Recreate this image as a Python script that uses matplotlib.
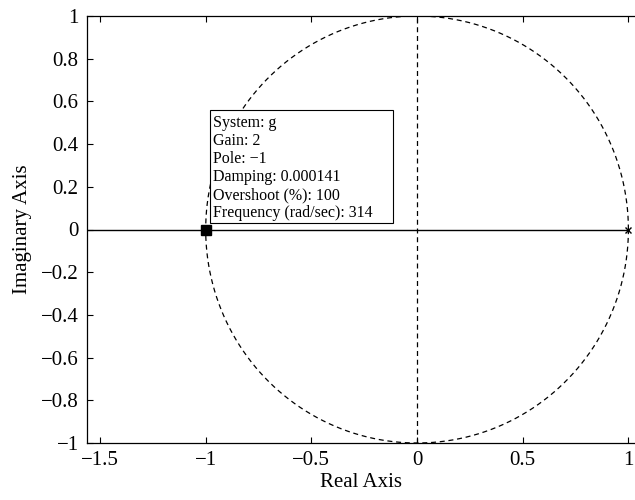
import numpy as np
import matplotlib
matplotlib.use('Agg')
import matplotlib.pyplot as plt
from matplotlib.patches import Rectangle

plt.rcParams['font.family'] = ['Liberation Serif', 'DejaVu Serif']
plt.rcParams['axes.unicode_minus'] = True

# root locus data
pole_re = [1.0]
pole_im = [0.0]
branch_re = [-10.0, 1.0]      # real-axis branch, pole at 1 going to -inf
branch_im = [0.0, 0.0]
circle_radius = 1.0           # dashed unit circle
imag_axis_re = [0.0, 0.0]
imag_axis_im = [-1.0, 1.0]

# selected point / data tip
sel_re, sel_im = -1.0, 0.0
tip_lines = ["System: g", "Gain: 2", "Pole: \u22121", "Damping: 0.000141",
             "Overshoot (%): 100", "Frequency (rad/sec): 314"]

xticks = [-1.5, -1, -0.5, 0, 0.5, 1]
yticks = [-1, -0.8, -0.6, -0.4, -0.2, 0, 0.2, 0.4, 0.6, 0.8, 1]

fig = plt.figure(figsize=(6.35, 5), dpi=100)
ax = fig.add_axes([87/635, 57/500, (636-87)/635, (443-16)/500])

theta = np.linspace(0, 2*np.pi, 400)
ax.plot(circle_radius*np.cos(theta), circle_radius*np.sin(theta), color='black',
        linestyle=(0, (4, 3)), linewidth=0.9)
ax.plot(imag_axis_re, imag_axis_im, color='black', linestyle=(0, (4, 3)), linewidth=0.9)
ax.plot(branch_re, branch_im, color='black', linewidth=1.0)
ax.plot(pole_re, pole_im, linestyle='none', marker='x', color='black', markersize=5, mew=1)

# data tip box and text
ax.add_patch(Rectangle((-0.981, 0.030), 0.867, 0.530, facecolor='white',
                       edgecolor='black', linewidth=0.8, zorder=4))
ax.text(-0.967, 0.040, "\n".join(tip_lines), fontsize=11.5, va='bottom', ha='left',
        linespacing=1.17, zorder=5)
ax.plot([sel_re], [sel_im], linestyle='none', marker='s', color='black', markersize=7,
        zorder=6)

ax.set_xlim(-1.5616, 1.036)
ax.set_ylim(-1, 1)
ax.set_xticks(xticks)
ax.set_yticks(yticks)
ax.set_xticklabels(['\u22121.5', '\u22121', '\u22120.5', '0', '0.5', '1'])
ax.set_yticklabels(['\u22121', '\u22120.8', '\u22120.6', '\u22120.4', '\u22120.2', '0',
                    '0.2', '0.4', '0.6', '0.8', '1'])
ax.tick_params(direction='in', length=4, width=0.8, labelsize=15, top=True, right=False, pad=6)
for s in ax.spines.values():
    s.set_linewidth(0.9)
ax.spines['right'].set_visible(False)
ax.set_xlabel('Real Axis', fontsize=15, labelpad=2)
ax.set_ylabel('Imaginary Axis', fontsize=15, labelpad=6)

fig.savefig('out.png', dpi=100)
